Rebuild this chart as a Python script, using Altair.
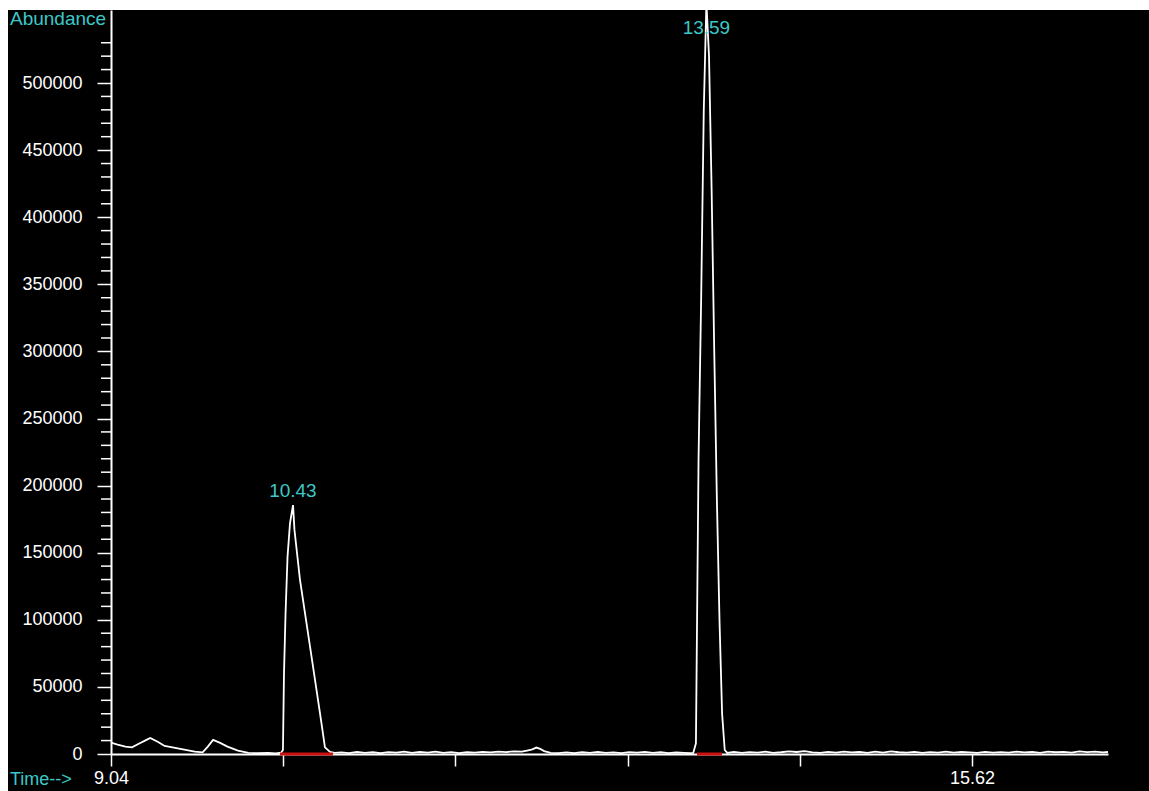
import altair as alt
import pandas as pd

# ---- data ----
time_min = [
    9.04, 9.09, 9.15, 9.20, 9.26, 9.30, 9.34, 9.40, 9.45, 9.53, 9.61, 9.68, 9.74, 9.78, 9.82, 9.87, 9.93,
    10.01, 10.09, 10.16, 10.24, 10.30,
    10.34, 10.354, 10.362, 10.374, 10.389, 10.408, 10.431, 10.442, 10.484, 10.561, 10.637, 10.675, 10.714, 10.75,
    10.80, 10.86, 10.92, 10.98, 11.04, 11.10, 11.16, 11.22, 11.28, 11.34, 11.40, 11.46, 11.52, 11.58, 11.64,
    11.70, 11.76, 11.82, 11.88, 11.94, 12.00, 12.06, 12.12, 12.18, 12.22, 12.26, 12.29, 12.32, 12.35, 12.40,
    12.46, 12.52, 12.58, 12.64, 12.70, 12.76, 12.82, 12.88, 12.94, 13.00, 13.06, 13.12, 13.18, 13.24, 13.30,
    13.36, 13.42, 13.47,
    13.49, 13.51, 13.53, 13.55, 13.57, 13.59, 13.61, 13.63, 13.65, 13.67, 13.69, 13.71, 13.73, 13.75,
    13.80, 13.86, 13.92, 13.98, 14.04, 14.10, 14.16, 14.22, 14.28, 14.34, 14.40, 14.46, 14.52, 14.58, 14.64,
    14.70, 14.76, 14.82, 14.88, 14.94, 15.00, 15.06, 15.12, 15.18, 15.24, 15.30, 15.36, 15.42, 15.48, 15.54,
    15.60, 15.66, 15.72, 15.78, 15.84, 15.90, 15.96, 16.02, 16.08, 16.14, 16.20, 16.26, 16.32, 16.38, 16.44,
    16.50, 16.56, 16.62, 16.66,
]
abundance = [
    8500, 7000, 5500, 5000, 8000, 10000, 12000, 9000, 6000, 4500, 3000, 1800, 1200, 5500, 10500, 8500, 5500,
    2500, 900, 600, 900, 500,
    1000, 3000, 60000, 105000, 147000, 172000, 185500, 167000, 130000, 80000, 30500, 5000, 1500, 800,
    1200, 700, 1500, 900, 1300, 600, 1400, 1000, 1700, 800, 1500, 1100, 1800, 900, 1400,
    700, 1300, 1000, 1600, 1200, 1800, 1400, 2000, 1700, 2600, 3500, 4800, 3800, 2200, 900,
    700, 1200, 600, 1300, 900, 1500, 800, 1200, 700, 1400, 1000, 1600, 900, 1300, 700,
    1100, 800, 600,
    900, 8000, 220000, 340000, 480000, 560000, 520000, 420000, 300000, 190000, 100000, 30000, 3000, 800,
    1500, 800, 1400, 1000, 1700, 900, 1300, 2000, 1500, 2200, 1200, 900, 1600, 1000, 1800,
    1200, 1500, 900, 1700, 1100, 1900, 1300, 1000, 1600, 900, 1400, 1100, 1800, 1000, 1500,
    1200, 900, 1600, 1100, 1400, 1000, 1700, 1200, 1500, 900, 1800, 1300, 1600, 1100, 1900,
    1400, 1700, 1200, 1500,
]

peak_times = [10.43, 13.59]
peak_labels = ["10.43", "13.59"]
peak_label_abund = [196000, 541000]

integ_start = [10.332, 13.518]
integ_end = [10.736, 13.709]

x_ticks = [9.04, 10.356, 11.672, 12.988, 14.304, 15.62]
x_tick_labels = ["9.04", "", "", "", "", "15.62"]
y_major = list(range(0, 500001, 50000))
y_minor = [v for v in range(10000, 530001, 10000) if v % 50000]

X_DOMAIN = [9.04, 16.659]
Y_DOMAIN = [0, 554400]
W, H = 997, 744
FONT = "Liberation Sans"
CYAN = "#3cc8c8"

# ---- tables ----
sig = pd.DataFrame({"t": time_min, "a": abundance})
peaks = pd.DataFrame({"t": peak_times, "a": peak_label_abund, "lab": peak_labels})
integ = pd.DataFrame({"t": integ_start, "e": integ_end, "a": [0] * len(integ_start)})
minor = pd.DataFrame({"a": y_minor})

xs = alt.Scale(domain=X_DOMAIN, nice=False, zero=False)
ys = alt.Scale(domain=Y_DOMAIN, nice=False, zero=True)

label_expr = "{}[indexof({}, datum.value)]".format(
    "[" + ",".join("'%s'" % s for s in x_tick_labels) + "]",
    "[" + ",".join(str(v) for v in x_ticks) + "]",
)

x_axis = alt.Axis(values=x_ticks, labelExpr=label_expr, tickSize=12, tickColor="white", tickWidth=1.5,
                  domainColor="white", domainWidth=2, labelColor="white", labelFont=FONT,
                  labelFontSize=18, labelPadding=3, title=None, grid=False,
                  labelFlush=False, labelOverlap=False)
y_axis = alt.Axis(values=y_major, format="d", tickSize=14, tickColor="white", tickWidth=1.5,
                  domainColor="white", domainWidth=2, labelColor="white", labelFont=FONT,
                  labelFontSize=18, labelPadding=15, title=None, grid=False,
                  labelFlush=False, labelOverlap=False)

X = alt.X("t:Q", scale=xs, axis=x_axis)
Y = alt.Y("a:Q", scale=ys, axis=y_axis)

# white border strips (top and left) of the screenshot frame
strip_top = alt.Chart(alt.Data(values=[{"k": 1}])).mark_rect(color="white").encode(
    x=alt.value(-111), x2=alt.value(W + 41), y=alt.value(-10), y2=alt.value(0)
)
strip_left = alt.Chart(alt.Data(values=[{"k": 1}])).mark_rect(color="white").encode(
    x=alt.value(-111), x2=alt.value(-103), y=alt.value(-10), y2=alt.value(H + 37)
)

line = alt.Chart(sig).mark_line(color="white", strokeWidth=1.8, clip=True).encode(
    x=X, y=Y, order="t:Q",
)

red = alt.Chart(integ).mark_rule(color="#cc1010", strokeWidth=3).encode(
    x=X, x2="e:Q", y=Y,
)

minor_ticks = alt.Chart(minor).mark_rule(color="white", strokeWidth=1.5).encode(
    y=Y, x=alt.value(-10), x2=alt.value(0)
)

peak_text = alt.Chart(peaks).mark_text(color=CYAN, font=FONT, fontSize=19, align="center",
                                        baseline="middle").encode(
    x=X, y=Y, text="lab:N"
)

abund_text = alt.Chart(alt.Data(values=[{"lab": "Abundance"}])).mark_text(
    color=CYAN, font=FONT, fontSize=19, align="left", baseline="middle"
).encode(x=alt.value(-101), y=alt.value(9), text="lab:N")

time_text = alt.Chart(alt.Data(values=[{"lab": "Time-->"}])).mark_text(
    color=CYAN, font=FONT, fontSize=18, align="left", baseline="middle"
).encode(x=alt.value(-101), y=alt.value(H + 26), text="lab:N")

chart = alt.layer(line, red, minor_ticks, peak_text, abund_text, time_text, strip_top, strip_left).properties(
    width=W, height=H, padding=0
).configure(background="black").configure_view(stroke=None)

chart.save("out.html", embed_options={"renderer": "svg", "actions": False})
